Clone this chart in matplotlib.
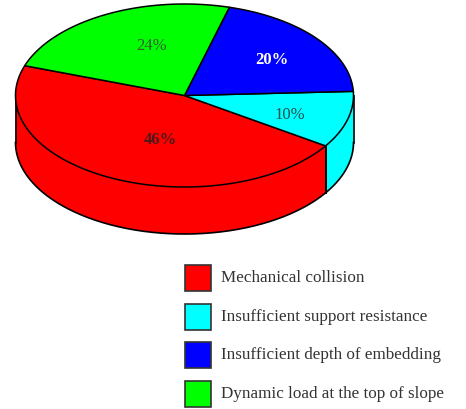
import matplotlib
matplotlib.use('Agg')
import matplotlib.pyplot as plt
from matplotlib.patches import Rectangle
import numpy as np

# data
categories = ['Mechanical collision', 'Insufficient support resistance',
              'Insufficient depth of embedding', 'Dynamic load at the top of slope']
values = [46, 10, 20, 24]
colors = ['#ff0000', '#00ffff', '#0000ff', '#00ff00']
label_text = ['46%', '10%', '20%', '24%']
label_colors = ['#4a1a1a', '#1f4f4f', '#ffffff', '#2f5f2f']
label_weight = ['bold', 'normal', 'bold', 'normal']
label_pos = [(160, 140), (290, 115), (272, 60), (152, 46)]

# pie geometry in pixels
cx, cy = 184.5, 96.5
rx, ry = 169, 91.5
depth = 47
start_angle = 161.0  # red starts here, going counter clockwise

plt.rcParams['font.family'] = ['Liberation Serif', 'DejaVu Serif']

fig = plt.figure(figsize=(4.66, 4.10), dpi=100)
ax = fig.add_axes([0, 0, 1, 1])
ax.set_xlim(0, 466)
ax.set_ylim(410, 0)
ax.axis('off')


def arc(a0, a1, dy=0):
    t = np.radians(np.linspace(a0, a1, 200))
    return cx + rx * np.cos(t), cy - ry * np.sin(t) + dy


# slice angles from the values
angles = start_angle + np.concatenate([[0], np.cumsum(values)]) * 3.6

# side wall first, only the front half shows
for i in range(len(values)):
    a0 = max(angles[i], 180)
    a1 = min(angles[i + 1], 360)
    if a1 <= a0:
        continue
    x0, y0 = arc(a0, a1)
    x1, y1 = arc(a0, a1, depth)
    ax.fill(np.r_[x0, x1[::-1]], np.r_[y0, y1[::-1]], facecolor=colors[i],
            edgecolor='none', zorder=1)
    ax.plot(x1, y1, color='black', lw=1.2, zorder=2)
    ax.plot([x0[0], x1[0]], [y0[0], y1[0]], color='black', lw=1.2, zorder=2)
    ax.plot([x0[-1], x1[-1]], [y0[-1], y1[-1]], color='black', lw=1.2, zorder=2)

# top face
for i in range(len(values)):
    x, y = arc(angles[i], angles[i + 1])
    ax.fill(np.r_[cx, x], np.r_[cy, y], facecolor=colors[i], edgecolor='black',
            lw=1.1, joinstyle='round', zorder=3)

for txt, c, w, (px, py) in zip(label_text, label_colors, label_weight, label_pos):
    ax.text(px, py, txt, color=c, fontweight=w, fontsize=12, ha='center',
            va='center', zorder=4)

# legend
legend_y = [266, 304.5, 343, 382]
for name, c, ly in zip(categories, colors, legend_y):
    ax.add_patch(Rectangle((184.5, ly), 26, 26, facecolor=c, edgecolor='#333333', lw=1.2))
    ax.text(221, ly + 12.5, name, color='#333333', fontsize=12.3, ha='left', va='center')

fig.savefig('out.png', dpi=100)
